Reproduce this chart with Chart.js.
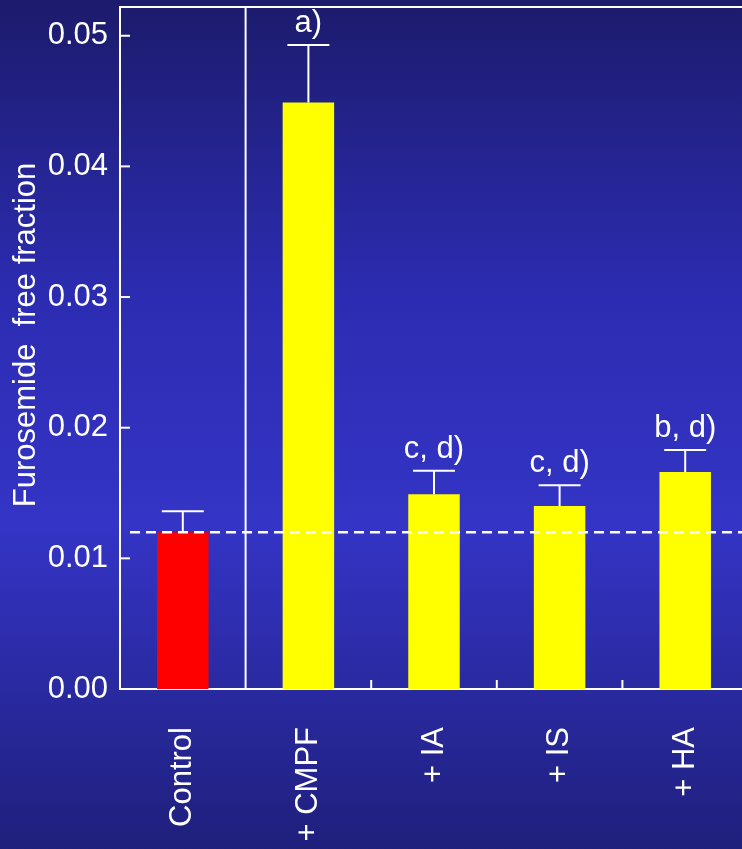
<!DOCTYPE html>
<html>
<head>
<meta charset="utf-8">
<script src="https://cdn.jsdelivr.net/npm/chart.js@4"></script>
<style>
  html, body { margin: 0; padding: 0; overflow: hidden; background: #2a2aa0; }
  #chart { display: block; }
</style>
</head>
<body>
<canvas id="chart" width="750" height="849"></canvas>
<script>
const groups = ["Control", "+ CMPF", "+ IA", "+ IS", "+ HA"];
const freeFraction = [0.0120, 0.0449, 0.0149, 0.0140, 0.0166];
const sem = [0.0016, 0.0044, 0.0018, 0.0016, 0.0017];
const marks = ["", "a)", "c, d)", "c, d)", "b, d)"];
const barColors = ["#ff0000", "#ffff00", "#ffff00", "#ffff00", "#ffff00"];
const yTicks = [0, 0.01, 0.02, 0.03, 0.04, 0.05];
const controlLevel = 0.012;

const FONT = "Liberation Sans, Arial, sans-serif";

// fondo azul degradado
const fondo = {
  id: "fondo",
  beforeDraw(chart) {
    const { ctx, width, height } = chart;
    const g = ctx.createLinearGradient(0, 0, 0, height);
    g.addColorStop(0, "#1c1b6c");
    g.addColorStop(0.35, "#2c2cb2");
    g.addColorStop(0.62, "#3434c6");
    g.addColorStop(1, "#1f1f7c");
    ctx.save();
    ctx.fillStyle = g;
    ctx.fillRect(0, 0, width, height);
    ctx.restore();
  },
};

// marco, ticks hacia adentro, barras de error, linea de control y letras
const extras = {
  id: "extras",
  afterDatasetsDraw(chart) {
    const { ctx, chartArea: a, scales } = chart;
    const x = scales.x, y = scales.y;
    ctx.save();
    ctx.strokeStyle = "#ffffff";
    ctx.fillStyle = "#ffffff";

    // borde superior
    ctx.lineWidth = 2;
    ctx.beginPath();
    ctx.moveTo(a.left, a.top);
    ctx.lineTo(a.right, a.top);
    ctx.stroke();

    // separador entre control y tratamientos
    const sep = (x.getPixelForValue(0) + x.getPixelForValue(1)) / 2;
    ctx.beginPath();
    ctx.moveTo(sep, a.top);
    ctx.lineTo(sep, a.bottom);
    ctx.stroke();

    // ticks inferiores hacia adentro
    for (let i = 1; i < groups.length - 1; i++) {
      const px = (x.getPixelForValue(i) + x.getPixelForValue(i + 1)) / 2;
      ctx.beginPath();
      ctx.moveTo(px, a.bottom);
      ctx.lineTo(px, a.bottom - 9);
      ctx.stroke();
    }

    // ticks del eje y hacia adentro
    y.ticks.forEach((t) => {
      const py = y.getPixelForValue(t.value);
      ctx.beginPath();
      ctx.moveTo(a.left, py);
      ctx.lineTo(a.left + 10, py);
      ctx.stroke();
    });

    // barras de error
    freeFraction.forEach((v, i) => {
      const px = x.getPixelForValue(i);
      const top = y.getPixelForValue(v + sem[i]);
      const base = y.getPixelForValue(v);
      ctx.beginPath();
      ctx.moveTo(px, base);
      ctx.lineTo(px, top);
      ctx.moveTo(px - 21, top);
      ctx.lineTo(px + 21, top);
      ctx.stroke();
      if (marks[i]) {
        ctx.font = "31px " + FONT;
        ctx.textAlign = "center";
        ctx.textBaseline = "alphabetic";
        ctx.fillText(marks[i], px, top - 13);
      }
    });

    // linea de control punteada
    const cy = y.getPixelForValue(controlLevel);
    ctx.lineWidth = 2.5;
    ctx.setLineDash([10, 6]);
    ctx.beginPath();
    ctx.moveTo(a.left + 10, cy);
    ctx.lineTo(a.right, cy);
    ctx.stroke();
    ctx.setLineDash([]);

    // titulo del eje y
    ctx.font = "31px " + FONT;
    ctx.textAlign = "center";
    ctx.textBaseline = "middle";
    ctx.translate(26, 335);
    ctx.rotate(-Math.PI / 2);
    ctx.fillText("Furosemide  free fraction", 0, 0);
    ctx.restore();
  },
};

new Chart(document.getElementById("chart").getContext("2d"), {
  type: "bar",
  data: {
    labels: groups,
    datasets: [
      {
        data: freeFraction,
        backgroundColor: barColors,
        borderWidth: 0,
        categoryPercentage: 1,
        barPercentage: 0.41,
      },
    ],
  },
  options: {
    responsive: false,
    animation: false,
    layout: { padding: { left: 0, top: 7, right: 2, bottom: 0 } },
    plugins: { legend: { display: false }, tooltip: { enabled: false } },
    scales: {
      x: {
        type: "category",
        offset: true,
        grid: { display: false, drawTicks: false },
        border: { color: "#ffffff", width: 2 },
        ticks: {
          color: "#ffffff",
          font: { family: FONT, size: 31 },
          minRotation: 90,
          maxRotation: 90,
          padding: 38,
          autoSkip: false,
        },
        afterFit(scale) {
          scale.height = 160;
          scale.paddingLeft = 0;
          scale.paddingRight = 0;
        },
      },
      y: {
        min: 0,
        max: 0.0522,
        grid: { display: false, drawTicks: false },
        border: { color: "#ffffff", width: 2 },
        ticks: {
          color: "#ffffff",
          font: { family: FONT, size: 31 },
          padding: 12,
          callback: (v) => v.toFixed(2),
        },
        afterBuildTicks(scale) {
          scale.ticks = yTicks.map((v) => ({ value: v }));
        },
        afterFit(scale) {
          scale.width = 120;
          scale.paddingTop = 0;
          scale.paddingBottom = 0;
        },
      },
    },
  },
  plugins: [fondo, extras],
});
</script>
</body>
</html>
